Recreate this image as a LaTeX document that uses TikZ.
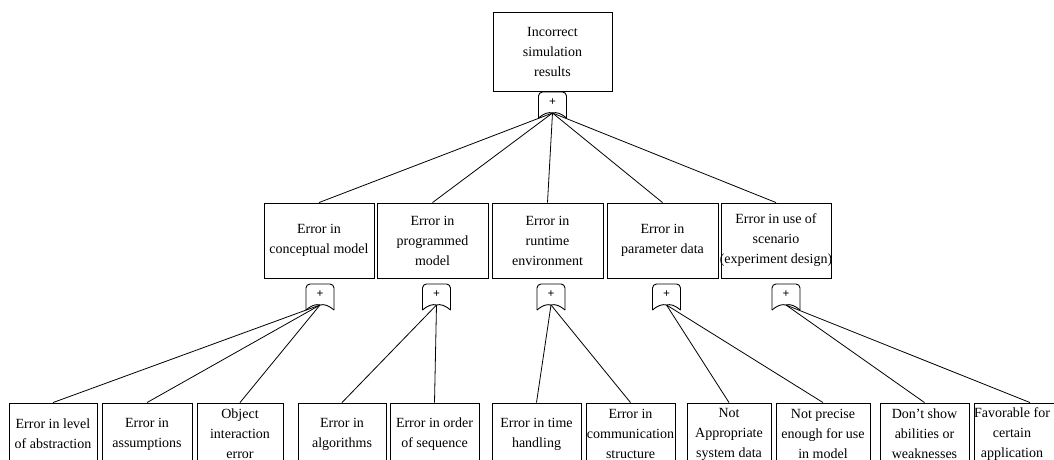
\documentclass[tikz,border=0pt]{standalone}
\usepackage{fontspec}
\setmainfont{Liberation Serif}
\begin{document}
\begin{tikzpicture}[x=1pt,y=-1pt,
  box/.style={draw, line width=0.9pt, inner sep=0pt, align=center,
    font=\fontsize{14}{20}\selectfont},
  label/.style={inner sep=0pt, align=center, font=\fontsize{14}{20}\selectfont},
  link/.style={line width=0.8pt},
  gatesh/.style={line width=0.9pt},
  gate/.pic={
    \draw[gatesh, rounded corners=4pt] (-14,26) -- (-14,0) -- (14,0) -- (14,26);
    \draw[gatesh] (-14,26) .. controls (-8,21) and (-4,20) .. (0,21)
                           .. controls (4,20) and (8,21) .. (14,26);
    \node[font=\bfseries\fontsize{12}{12}\selectfont, inner sep=0pt] at (0,10) {+};
    \coordinate (-in) at (0,0);
    \coordinate (-out) at (0,21);
  }]
\useasboundingbox (0,0) rectangle (1054,459);
\clip (0,0) rectangle (1054,459);

% root event
\node[box, minimum width=119pt, minimum height=79pt] (root) at (552.5,51.5)
  {Incorrect\\simulation\\results};
\pic (g0) at (552.5,92) {gate};

% intermediate events
\node[box, minimum width=110pt, minimum height=75pt] (m1) at (319,240.5)
  {Error in\\conceptual model};
\node[box, minimum width=111pt, minimum height=75pt] (m2) at (432.5,240.5)
  {Error in\\programmed\\model};
\node[box, minimum width=111pt, minimum height=75pt] (m3) at (547.5,240.5)
  {Error in\\runtime\\environment};
\node[box, minimum width=111pt, minimum height=75pt] (m4) at (662.5,240.5)
  {Error in\\parameter data};
\node[box, minimum width=110pt, minimum height=75pt] (m5) at (776,240.5)
  {Error in use of\\scenario\\\makebox[0pt]{(experiment design)}};

\pic (g1) at (320,284) {gate};
\pic (g2) at (436.5,284) {gate};
\pic (g3) at (551,284) {gate};
\pic (g4) at (666.5,284) {gate};
\pic (g5) at (786,284) {gate};

% basic events
\node[box, minimum width=88pt, minimum height=62pt] (b1) at (53,434)
  {Error in level\\of abstraction};
\node[box, minimum width=90pt, minimum height=62pt] (b2) at (147,434)
  {Error in\\assumptions};
\node[box, minimum width=86pt, minimum height=62pt] (b3) at (240,434)
  {Object\\interaction\\error};
\node[box, minimum width=88pt, minimum height=62pt] (b4) at (342,434)
  {Error in\\algorithms};
\node[box, minimum width=89pt, minimum height=62pt] (b5) at (434.5,434)
  {Error in order\\of sequence};
\node[box, minimum width=89pt, minimum height=62pt] (b6) at (536.5,434)
  {Error in time\\handling};
\node[box, minimum width=89pt, minimum height=62pt] (b7) at (630.5,434)
  {Error in\\communication\\structure};
\node[box, minimum width=84pt, minimum height=62pt] (b8) at (729,434)
  {Not\\Appropriate\\system data};
\node[box, minimum width=94pt, minimum height=62pt] (b9) at (823,434)
  {Not precise\\enough for use\\in model};
\node[box, minimum width=89pt, minimum height=62pt] (b10) at (924.5,434)
  {Don’t show\\abilities or\\weaknesses};
\node[box, minimum width=112pt, minimum height=62pt] (b11) at (1030,434) {};
\node[label] (b11text) at (1012,434) {Favorable for\\certain\\application};

% connectors
\draw[link] (g0-in) -- (root.south);
\foreach \m in {m1,m2,m3,m4,m5}
  \draw[link] (g0-out) -- (\m.north);
\foreach \b in {b1,b2,b3}
  \draw[link] (g1-out) -- (\b.north);
\foreach \b in {b4,b5}
  \draw[link] (g2-out) -- (\b.north);
\foreach \b in {b6,b7}
  \draw[link] (g3-out) -- (\b.north);
\foreach \b in {b8,b9}
  \draw[link] (g4-out) -- (\b.north);
\foreach \b in {b10,b11}
  \draw[link] (g5-out) -- (\b.north);
\end{tikzpicture}
\end{document}
